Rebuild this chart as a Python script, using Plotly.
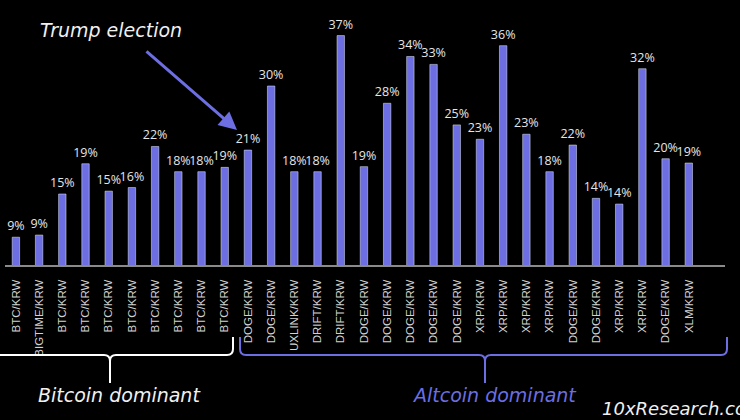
import plotly.graph_objects as go

pairs = ["BTC/KRW", "BIGTIME/KRW", "BTC/KRW", "BTC/KRW", "BTC/KRW", "BTC/KRW",
         "BTC/KRW", "BTC/KRW", "BTC/KRW", "BTC/KRW", "DOGE/KRW", "DOGE/KRW",
         "UXLINK/KRW", "DRIFT/KRW", "DRIFT/KRW", "DOGE/KRW", "DOGE/KRW", "DOGE/KRW",
         "DOGE/KRW", "DOGE/KRW", "XRP/KRW", "XRP/KRW", "XRP/KRW", "XRP/KRW",
         "DOGE/KRW", "DOGE/KRW", "XRP/KRW", "XRP/KRW", "DOGE/KRW", "XLM/KRW"]
values = [9.0, 9.3, 15.0, 19.2, 15.4, 15.9, 21.6, 18.1, 18.1, 18.7,
          21.1, 30.0, 18.1, 18.1, 37.0, 18.8, 27.6, 34.1, 33.0, 24.6,
          22.6, 35.6, 23.3, 18.1, 21.8, 14.4, 13.6, 32.4, 19.9, 19.3]
labels = [f"{round(v)}%" for v in values]
idx = list(range(len(pairs)))

BAR = "#6c6ee2"
W, H = 740, 420
L, R, T, B = 5, 15, 14, 155
PW, PH = W - L - R, H - T - B
ITAL = "DejaVu Sans"


def px(x):
    return (x - L) / PW


def py(y):
    return (H - B - y) / PH


def path(cmds):
    out = []
    for c in cmds:
        if isinstance(c, str):
            out.append(c)
        else:
            out.append(f"{px(c[0]):.5f},{py(c[1]):.5f}")
    return " ".join(out)


fig = go.Figure(go.Bar(
    x=idx, y=values, base=0, width=0.32, marker_color=BAR,
    text=labels, textposition="outside", cliponaxis=False, constraintext="none",
    textfont=dict(color="#e6e6e6", size=12.5, family="Open Sans"),
))

btc_brace = path(["M", (0, 355), "L", (104, 355), "Q", (110, 355), (110, 361), "L", (110, 383),
                  "M", (110, 361), "Q", (110, 355), (116, 355), "L", (227, 355),
                  "Q", (233, 355), (233, 349), "L", (233, 337)])
alt_brace = path(["M", (240, 337), "L", (240, 349), "Q", (240, 355), (246, 355), "L", (479, 355),
                  "Q", (485, 355), (485, 361), "L", (485, 383),
                  "M", (485, 361), "Q", (485, 355), (491, 355), "L", (721, 355),
                  "Q", (727, 355), (727, 349), "L", (727, 337)])


def note(x, y, text, color, size=19, anchor="center"):
    return dict(xref="paper", yref="paper", x=px(x), y=py(y), text=f"<i>{text}</i>",
                xanchor=anchor, yanchor="middle", showarrow=False,
                font=dict(color=color, size=size, family=ITAL))


fig.update_layout(
    width=W, height=H,
    margin=dict(l=L, r=R, t=T, b=B),
    paper_bgcolor="black", plot_bgcolor="black",
    showlegend=False,
    xaxis=dict(range=[-0.47, 30.56], tickvals=idx, ticktext=pairs, tickangle=-90,
               tickfont=dict(color="#d2d2d2", size=11.5, family="Liberation Sans"),
               ticklabelstandoff=8,
               showgrid=False, zeroline=False, showline=True, linecolor="#8a8a8a",
               linewidth=2, ticks="", fixedrange=True),
    yaxis=dict(range=[5.14, 40], visible=False, showgrid=False, zeroline=False),
    shapes=[
        dict(type="path", xref="paper", yref="paper", path=btc_brace,
             line=dict(color="white", width=2)),
        dict(type="path", xref="paper", yref="paper", path=alt_brace,
             line=dict(color=BAR, width=2)),
    ],
    annotations=[
        note(111, 30, "Trump election", "#f0f0f0"),
        dict(xref="paper", yref="paper", x=px(237), y=py(130), ax=145 - 237, ay=50 - 130,
             axref="pixel", ayref="pixel", text="", showarrow=True, arrowhead=2,
             arrowsize=1.2, arrowwidth=3, arrowcolor=BAR),
        note(119, 395, "Bitcoin dominant", "#f0f0f0"),
        note(494, 395, "Altcoin dominant", BAR),
        note(600, 408, "10xResearch.com", "#f0f0f0", size=18, anchor="left"),
    ],
)

fig.write_html("out.html")
